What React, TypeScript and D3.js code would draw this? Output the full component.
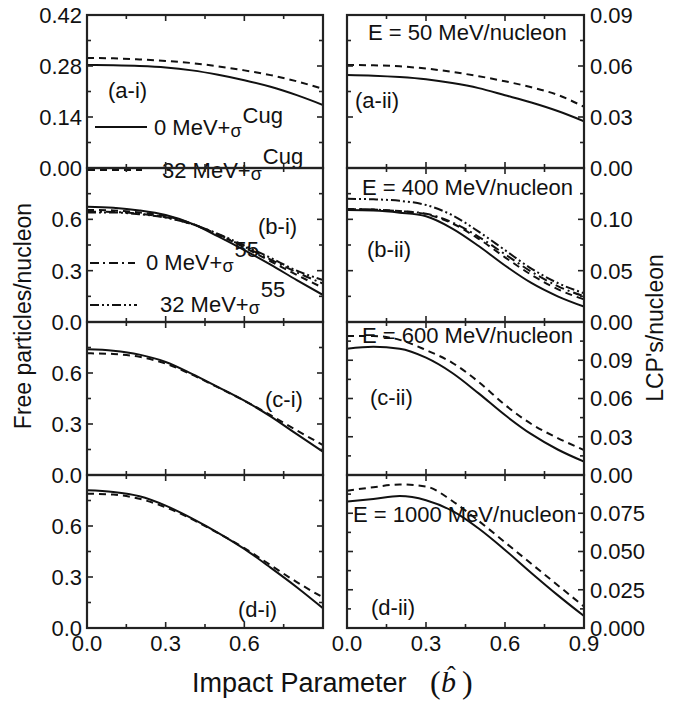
import { curveMonotoneX, line, scaleLinear } from "d3";

// impact parameter grid shared by every curve
const IMPACT = [0, 0.1, 0.2, 0.3, 0.4, 0.5, 0.6, 0.7, 0.8, 0.9];

// free particles per nucleon
const FREE_50_0CUG = [0.283, 0.282, 0.28, 0.276, 0.268, 0.256, 0.241, 0.223, 0.2, 0.173];
const FREE_50_32CUG = [0.302, 0.301, 0.298, 0.294, 0.288, 0.279, 0.268, 0.255, 0.238, 0.217];
const FREE_400_0CUG = [0.674, 0.668, 0.652, 0.625, 0.575, 0.5, 0.42, 0.335, 0.245, 0.158];
const FREE_400_32CUG = [0.655, 0.652, 0.64, 0.618, 0.575, 0.51, 0.435, 0.355, 0.275, 0.2];
const FREE_400_0S55 = [0.645, 0.643, 0.633, 0.612, 0.572, 0.512, 0.44, 0.365, 0.29, 0.225];
const FREE_400_32S55 = [0.64, 0.64, 0.63, 0.61, 0.572, 0.515, 0.447, 0.375, 0.3, 0.245];
const FREE_600_0CUG = [0.739, 0.731, 0.708, 0.665, 0.595, 0.517, 0.437, 0.345, 0.24, 0.137];
const FREE_600_32CUG = [0.716, 0.712, 0.695, 0.655, 0.59, 0.515, 0.437, 0.352, 0.262, 0.176];
const FREE_1000_0CUG = [0.81, 0.8, 0.775, 0.72, 0.645, 0.56, 0.465, 0.355, 0.24, 0.116];
const FREE_1000_32CUG = [0.79, 0.785, 0.76, 0.71, 0.64, 0.558, 0.47, 0.37, 0.27, 0.18];

// LCP's per nucleon
const LCP_50_0CUG = [0.0547, 0.0543, 0.0535, 0.0522, 0.05, 0.047, 0.0428, 0.0385, 0.0335, 0.0275];
const LCP_50_32CUG = [0.0606, 0.0604, 0.0598, 0.0585, 0.0565, 0.054, 0.051, 0.0475, 0.043, 0.036];
const LCP_400_0CUG = [0.109, 0.1085, 0.1065, 0.103, 0.091, 0.074, 0.055, 0.038, 0.025, 0.015];
const LCP_400_32CUG = [0.11, 0.1095, 0.108, 0.105, 0.096, 0.081, 0.063, 0.046, 0.032, 0.022];
const LCP_400_0S55 = [0.11, 0.1095, 0.108, 0.1055, 0.097, 0.083, 0.066, 0.049, 0.035, 0.025];
const LCP_400_32S55 = [0.12, 0.1195, 0.118, 0.114, 0.104, 0.088, 0.07, 0.052, 0.038, 0.028];
const LCP_600_0CUG = [0.099, 0.1005, 0.099, 0.092, 0.08, 0.064, 0.047, 0.032, 0.02, 0.0105];
const LCP_600_32CUG = [0.109, 0.109, 0.106, 0.098, 0.088, 0.073, 0.055, 0.04, 0.029, 0.0196];
const LCP_1000_0CUG = [0.0826, 0.0843, 0.0862, 0.0835, 0.0765, 0.065, 0.051, 0.036, 0.0215, 0.0078];
const LCP_1000_32CUG = [0.0897, 0.092, 0.0938, 0.0925, 0.083, 0.07, 0.056, 0.042, 0.028, 0.014];

const ENERGY_LABELS = ["E = 50 MeV/nucleon", "E = 400 MeV/nucleon", "E = 600 MeV/nucleon", "E = 1000 MeV/nucleon"];
const X_MAJOR = [0, 0.3, 0.6, 0.9];
const X_MINOR = [0.15, 0.45, 0.75];

const FONT = "'Liberation Sans', Arial, Helvetica, sans-serif";
const COLS = [
  { x0: 87, x1: 323 },
  { x0: 347, x1: 584 },
];
const ROWS = [15, 168, 322, 475, 628];

const DASH = {
  solid: undefined,
  dash: "7,5",
  dashdot: "9,4,2,4",
  dashdotdot: "9,3,2,3,2,3",
};

type Panel = {
  col: number;
  row: number;
  yMax: number;
  major: number[];
  minor: number[];
  labels: number[];
  digits: number;
  series: { values: number[]; dash?: string }[];
  tag: string;
  tagX: number;
  tagY: number;
  energy?: { x: number; y: number };
};

const PANELS: Panel[] = [
  {
    col: 0, row: 0, yMax: 0.42, major: [0, 0.14, 0.28, 0.42], minor: [0.07, 0.21, 0.35], labels: [0, 0.14, 0.28, 0.42], digits: 2,
    series: [{ values: FREE_50_0CUG, dash: DASH.solid }, { values: FREE_50_32CUG, dash: DASH.dash }],
    tag: "(a-i)", tagX: 108, tagY: 98,
  },
  {
    col: 0, row: 1, yMax: 0.9, major: [0, 0.3, 0.6, 0.9], minor: [0.15, 0.45, 0.75], labels: [0, 0.3, 0.6], digits: 1,
    series: [
      { values: FREE_400_0CUG, dash: DASH.solid },
      { values: FREE_400_32CUG, dash: DASH.dash },
      { values: FREE_400_0S55, dash: DASH.dashdot },
      { values: FREE_400_32S55, dash: DASH.dashdotdot },
    ],
    tag: "(b-i)", tagX: 258, tagY: 234,
  },
  {
    col: 0, row: 2, yMax: 0.9, major: [0, 0.3, 0.6, 0.9], minor: [0.15, 0.45, 0.75], labels: [0, 0.3, 0.6], digits: 1,
    series: [{ values: FREE_600_0CUG, dash: DASH.solid }, { values: FREE_600_32CUG, dash: DASH.dash }],
    tag: "(c-i)", tagX: 265, tagY: 407,
  },
  {
    col: 0, row: 3, yMax: 0.9, major: [0, 0.3, 0.6, 0.9], minor: [0.15, 0.45, 0.75], labels: [0, 0.3, 0.6], digits: 1,
    series: [{ values: FREE_1000_0CUG, dash: DASH.solid }, { values: FREE_1000_32CUG, dash: DASH.dash }],
    tag: "(d-i)", tagX: 238, tagY: 617,
  },
  {
    col: 1, row: 0, yMax: 0.09, major: [0, 0.03, 0.06, 0.09], minor: [0.015, 0.045, 0.075], labels: [0, 0.03, 0.06, 0.09], digits: 2,
    series: [{ values: LCP_50_0CUG, dash: DASH.solid }, { values: LCP_50_32CUG, dash: DASH.dash }],
    tag: "(a-ii)", tagX: 355, tagY: 108, energy: { x: 368, y: 40 },
  },
  {
    col: 1, row: 1, yMax: 0.15, major: [0, 0.05, 0.1, 0.15], minor: [0.025, 0.075, 0.125], labels: [0, 0.05, 0.1], digits: 2,
    series: [
      { values: LCP_400_0CUG, dash: DASH.solid },
      { values: LCP_400_32CUG, dash: DASH.dash },
      { values: LCP_400_0S55, dash: DASH.dashdot },
      { values: LCP_400_32S55, dash: DASH.dashdotdot },
    ],
    tag: "(b-ii)", tagX: 367, tagY: 257, energy: { x: 362, y: 195 },
  },
  {
    col: 1, row: 2, yMax: 0.12, major: [0, 0.03, 0.06, 0.09, 0.12], minor: [0.015, 0.045, 0.075, 0.105], labels: [0, 0.03, 0.06, 0.09], digits: 2,
    series: [{ values: LCP_600_0CUG, dash: DASH.solid }, { values: LCP_600_32CUG, dash: DASH.dash }],
    tag: "(c-ii)", tagX: 370, tagY: 405, energy: { x: 362, y: 343 },
  },
  {
    col: 1, row: 3, yMax: 0.1, major: [0, 0.025, 0.05, 0.075, 0.1], minor: [0.0125, 0.0375, 0.0625, 0.0875], labels: [0, 0.025, 0.05, 0.075], digits: 3,
    series: [{ values: LCP_1000_0CUG, dash: DASH.solid }, { values: LCP_1000_32CUG, dash: DASH.dash }],
    tag: "(d-ii)", tagX: 371, tagY: 615, energy: { x: 353, y: 522 },
  },
];

function PanelView({ p }: { p: Panel }) {
  const { x0, x1 } = COLS[p.col];
  const y0 = ROWS[p.row];
  const y1 = ROWS[p.row + 1];
  const x = scaleLinear().domain([0, 0.9]).range([x0, x1]);
  const y = scaleLinear().domain([0, p.yMax]).range([y1, y0]);
  const path = line<number>()
    .x((_, i) => x(IMPACT[i]))
    .y((v) => y(v))
    .curve(curveMonotoneX);
  const clipId = `clip-${p.col}-${p.row}`;
  const yTicks = [...p.major.map((v) => ({ v, len: 6 })), ...p.minor.map((v) => ({ v, len: 4 }))];
  const xTicks = [...X_MAJOR.map((v) => ({ v, len: 6 })), ...X_MINOR.map((v) => ({ v, len: 4 }))];
  const labelX = p.col === 0 ? x0 - 5 : x1 + 6;

  return (
    <g>
      <clipPath id={clipId}>
        <rect x={x0} y={y0} width={x1 - x0} height={y1 - y0} />
      </clipPath>
      <g clipPath={`url(#${clipId})`}>
        {p.series.map((s, i) => (
          <path key={i} d={path(s.values) ?? ""} fill="none" stroke="#111" strokeWidth={2} strokeDasharray={s.dash} />
        ))}
      </g>
      {p.energy ? (
        <text x={p.energy.x} y={p.energy.y} fontSize={22}>
          {ENERGY_LABELS[p.row]}
        </text>
      ) : null}
      <text x={p.tagX} y={p.tagY} fontSize={22}>
        {p.tag}
      </text>
      {yTicks.map((t, i) => (
        <g key={`y${i}`}>
          <line x1={x0} x2={x0 + t.len} y1={y(t.v)} y2={y(t.v)} stroke="#222" strokeWidth={1.6} />
          <line x1={x1} x2={x1 - t.len} y1={y(t.v)} y2={y(t.v)} stroke="#222" strokeWidth={1.6} />
        </g>
      ))}
      {xTicks.map((t, i) => (
        <g key={`x${i}`}>
          <line x1={x(t.v)} x2={x(t.v)} y1={y1} y2={y1 - t.len} stroke="#222" strokeWidth={1.6} />
          <line x1={x(t.v)} x2={x(t.v)} y1={y0} y2={y0 + t.len} stroke="#222" strokeWidth={1.6} />
        </g>
      ))}
      {p.labels.map((v) => (
        <text key={v} x={labelX} y={y(v)} dy="0.36em" fontSize={22} textAnchor={p.col === 0 ? "end" : "start"}>
          {v.toFixed(p.digits)}
        </text>
      ))}
      {p.row === 3
        ? (p.col === 0 ? [0, 0.3, 0.6] : X_MAJOR).map((v) => (
            <text key={`xl${v}`} x={x(v)} y={651} fontSize={22} textAnchor="middle">
              {v.toFixed(1)}
            </text>
          ))
        : null}
    </g>
  );
}

function Legend() {
  return (
    <g fontSize={22}>
      <line x1={95} x2={147} y1={127} y2={127} stroke="#111" strokeWidth={2} />
      <text x={154} y={135}>
        0 MeV+<tspan fontSize={18} dy={2}>σ</tspan>
        <tspan dx={1} dy={-14}>Cug</tspan>
      </text>
      <line x1={88} x2={142} y1={170} y2={170} stroke="#111" strokeWidth={2} strokeDasharray={DASH.dash} />
      <text x={162} y={178}>
        32 MeV+<tspan fontSize={18} dy={2}>σ</tspan>
        <tspan dx={1} dy={-16}>Cug</tspan>
      </text>
      <line x1={90} x2={135} y1={263} y2={263} stroke="#111" strokeWidth={2} strokeDasharray={DASH.dashdot} />
      <text x={146} y={270}>
        0 MeV+<tspan fontSize={18} dy={2}>σ</tspan>
        <tspan dx={1} dy={-15}>55</tspan>
      </text>
      <line x1={90} x2={137} y1={305} y2={305} stroke="#111" strokeWidth={2} strokeDasharray={DASH.dashdotdot} />
      <text x={160} y={312}>
        32 MeV+<tspan fontSize={18} dy={2}>σ</tspan>
        <tspan dx={1} dy={-17}>55</tspan>
      </text>
    </g>
  );
}

export default function App() {
  return (
    <div style={{ position: "absolute", left: 0, top: 0 }}>
      <svg width={691} height={702} fontFamily={FONT} fill="#111" style={{ display: "block", background: "#fff" }}>
        <Legend />
        {PANELS.map((p) => (
          <PanelView key={`${p.col}-${p.row}`} p={p} />
        ))}
        {COLS.map((c, ci) =>
          ROWS.slice(0, 4).map((top, ri) => (
            <rect key={`f${ci}${ri}`} x={c.x0} y={top} width={c.x1 - c.x0} height={ROWS[ri + 1] - top} fill="none" stroke="#222" strokeWidth={2.2} />
          ))
        )}
        <text transform="translate(31,316) rotate(-90)" fontSize={23} textAnchor="middle">
          Free particles/nucleon
        </text>
        <text transform="translate(663,328) rotate(-90)" fontSize={23} textAnchor="middle">
          LCP's/nucleon
        </text>
        <text x={192} y={692} fontSize={27}>
          Impact Parameter
        </text>
        <g fontFamily="'Liberation Serif', 'DejaVu Serif', serif" fontSize={32}>
          <text x={430} y={693}>(</text>
          <text x={441} y={692} fontStyle="italic" fontSize={30}>b</text>
          <text x={447} y={684} fontSize={26}>ˆ</text>
          <text x={462} y={693}>)</text>
        </g>
      </svg>
    </div>
  );
}
